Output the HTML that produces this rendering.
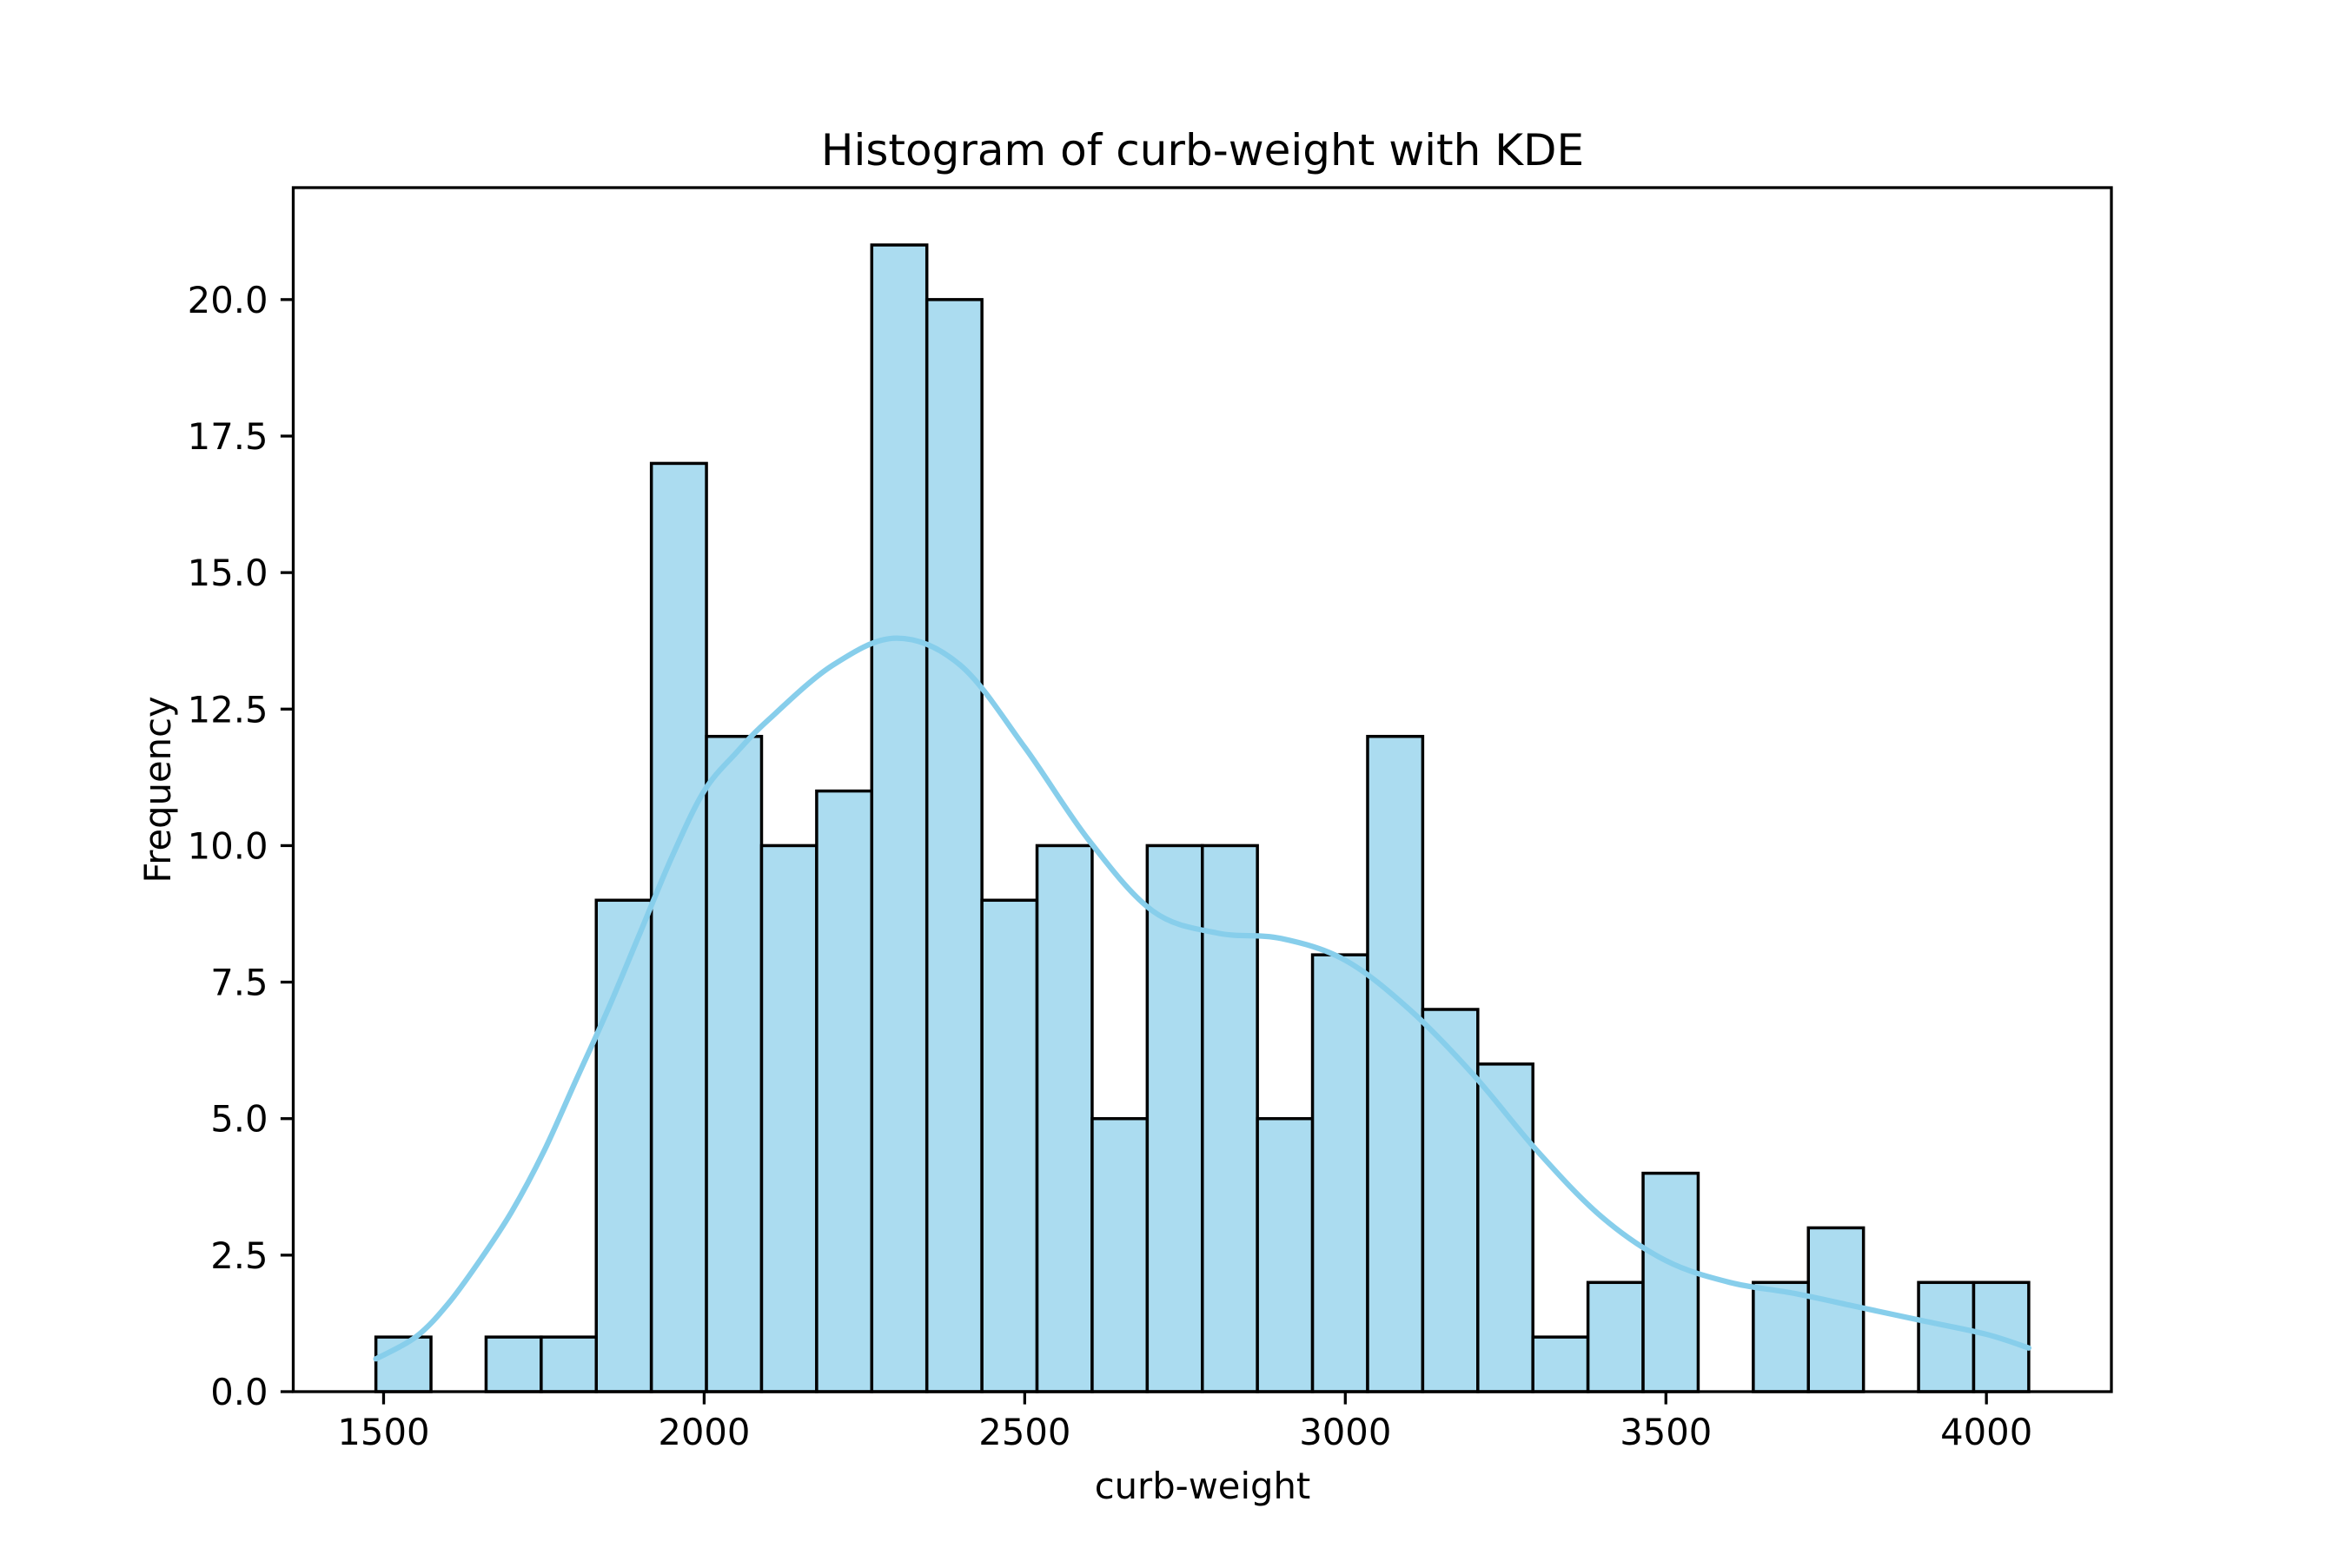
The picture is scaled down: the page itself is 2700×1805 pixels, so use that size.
<!DOCTYPE html>
<html><head><meta charset="utf-8"><style>
html,body{margin:0;padding:0;background:#fff;}
svg text{font-family:"DejaVu Sans","Liberation Sans",sans-serif;fill:#000;}
</style></head><body>
<svg id="chart" width="2700" height="1800" xmlns="http://www.w3.org/2000/svg">
<rect x="0" y="0" width="2700" height="1800" fill="#fff"/>
<text x="1384" y="190" font-size="50" text-anchor="middle">Histogram of curb-weight with KDE</text>
<g id="bars"></g>
<path id="kde" fill="none" stroke="#87ceeb" stroke-width="6.25" stroke-linejoin="round" stroke-linecap="round"/>
<rect x="337.5" y="216" width="2092.5" height="1386" fill="none" stroke="#000" stroke-width="3.3"/>
<g id="xticks"></g>
<g id="yticks"></g>
<text x="1384" y="1725" font-size="41.7" text-anchor="middle">curb-weight</text>
<text x="0" y="0" font-size="41.7" text-anchor="middle" transform="translate(196,909) rotate(-90)">Frequency</text>
</svg>
<script>
const binStart = 1488;
const binEnd = 4066;
const counts = [1,0,1,1,9,17,12,10,11,21,20,9,10,5,10,10,5,8,12,7,6,1,2,4,0,2,3,0,2,2];
const kdeX = [1488,1550,1600,1650,1700,1750,1800,1850,1900,1950,2000,2050,2100,2200,2300,2400,2500,2600,2700,2800,2900,3000,3100,3200,3300,3400,3500,3600,3700,3800,3900,4000,4066];
const kdeY = [0.6,1.0,1.6,2.4,3.3,4.4,5.7,7.0,8.4,9.8,11.0,11.7,12.3,13.3,13.8,13.3,11.8,10.1,8.8,8.4,8.3,7.9,7.0,5.8,4.4,3.2,2.4,2.0,1.8,1.55,1.3,1.05,0.8];
const xTicks = [1500,2000,2500,3000,3500,4000];
const yTicks = [0,2.5,5,7.5,10,12.5,15,17.5,20];
const yTickLabels = ["0.0","2.5","5.0","7.5","10.0","12.5","15.0","17.5","20.0"];

const L=337.5,R=2430,T=216,B=1602;
const span=binEnd-binStart, xmin=binStart-0.05*span, xmax=binEnd+0.05*span;
const ymax=Math.max(...counts)*1.05;
const sx=v=>L+(v-xmin)/(xmax-xmin)*(R-L);
const sy=v=>B-v/ymax*(B-T);
const NS="http://www.w3.org/2000/svg";
const bars=document.getElementById('bars');
const w=span/counts.length;
counts.forEach((c,i)=>{
  if(c<=0) return;
  const r=document.createElementNS(NS,'rect');
  const x0=sx(binStart+i*w), x1=sx(binStart+(i+1)*w);
  r.setAttribute('x',x0);r.setAttribute('y',sy(c));
  r.setAttribute('width',x1-x0);r.setAttribute('height',sy(0)-sy(c));
  r.setAttribute('fill','#abdcf0');r.setAttribute('stroke','#000');r.setAttribute('stroke-width','3.5');
  
  
  bars.appendChild(r);
});
const pts=kdeX.map((x,i)=>[sx(x),sy(kdeY[i])]);
let d='M'+pts[0][0]+','+pts[0][1];
for(let i=0;i<pts.length-1;i++){
  const p0=pts[Math.max(0,i-1)],p1=pts[i],p2=pts[i+1],p3=pts[Math.min(pts.length-1,i+2)];
  const c1=[p1[0]+(p2[0]-p0[0])/6,p1[1]+(p2[1]-p0[1])/6];
  const c2=[p2[0]-(p3[0]-p1[0])/6,p2[1]-(p3[1]-p1[1])/6];
  d+=' C'+c1[0]+','+c1[1]+' '+c2[0]+','+c2[1]+' '+p2[0]+','+p2[1];
}
document.getElementById('kde').setAttribute('d',d);
const xg=document.getElementById('xticks');
xTicks.forEach(v=>{
  const l=document.createElementNS(NS,'line');
  l.setAttribute('x1',sx(v));l.setAttribute('x2',sx(v));l.setAttribute('y1',B);l.setAttribute('y2',B+14.6);
  l.setAttribute('stroke','#000');l.setAttribute('stroke-width','3.3');
  
  
  xg.appendChild(l);
  const t=document.createElementNS(NS,'text');
  t.setAttribute('x',sx(v));t.setAttribute('y',B+61);t.setAttribute('font-size','41.7');t.setAttribute('text-anchor','middle');
  t.textContent=v;
  
  
  xg.appendChild(t);
});
const yg=document.getElementById('yticks');
yTicks.forEach((v,i)=>{
  const l=document.createElementNS(NS,'line');
  l.setAttribute('x1',L-14.6);l.setAttribute('x2',L);l.setAttribute('y1',sy(v));l.setAttribute('y2',sy(v));
  l.setAttribute('stroke','#000');l.setAttribute('stroke-width','3.3');
  
  
  yg.appendChild(l);
  const t=document.createElementNS(NS,'text');
  t.setAttribute('x',L-29);t.setAttribute('y',sy(v)+15);t.setAttribute('font-size','41.7');t.setAttribute('text-anchor','end');
  t.textContent=yTickLabels[i];
  
  
  yg.appendChild(t);
});
</script>
</body></html>
